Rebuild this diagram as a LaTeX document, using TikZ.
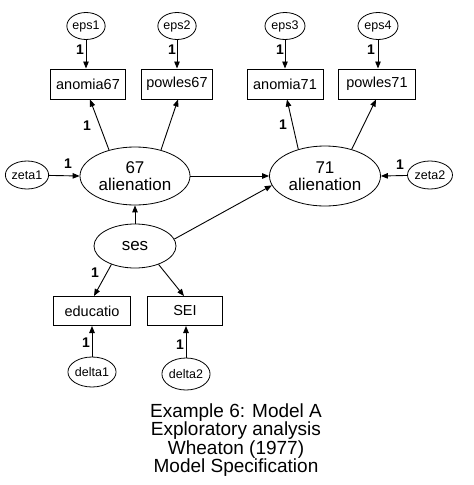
\documentclass[tikz,border=0pt]{standalone}
\usepackage{fontspec}
\setmainfont{Liberation Sans}
\usetikzlibrary{shapes.geometric,arrows.meta}
\begin{document}
\begin{tikzpicture}[x=1pt,y=-1pt,
  every node/.style={inner sep=0pt},
  errell/.style={ellipse,draw,line width=0.8pt,font=\fontsize{12.5}{13}\selectfont},
  latell/.style={ellipse,draw,line width=0.8pt,minimum width=110pt,minimum height=58pt,align=center,font=\fontsize{17}{17}\selectfont},
  obsbox/.style={rectangle,draw,line width=1pt,minimum width=75pt,minimum height=30pt,font=\fontsize{14.5}{15}\selectfont},
  arr/.style={-{Triangle[length=7pt,width=5.5pt]},line width=0.9pt},
  one/.style={font=\bfseries\fontsize{14}{14}\selectfont}]
\useasboundingbox (0,0) rectangle (474,485);
% error ellipses top
\node[errell,minimum width=36pt,minimum height=27pt] (eps1) at (86,26) {eps1};
\node[errell,minimum width=38pt,minimum height=27pt] (eps2) at (177,26) {eps2};
\node[errell,minimum width=40pt,minimum height=27pt] (eps3) at (285,26) {eps3};
\node[errell,minimum width=40pt,minimum height=27pt] (eps4) at (378,26) {eps4};
% observed boxes top
\node[obsbox] (a67) at (88,84) {anomia67};
\node[obsbox,minimum width=71pt] (p67) at (177,84) {powles67};
\node[obsbox,minimum width=76pt] (a71) at (285,84) {anomia71};
\node[obsbox,minimum width=77pt] (p71) at (377,84) {powles71};
% latent
\node[latell] (e67) at (135,176) {67\\alienation};
\node[latell,minimum width=111pt,minimum height=60pt] (e71) at (325,176) {71\\alienation};
\node[errell,minimum width=41pt,minimum height=28pt] (zeta1) at (27,175) {zeta1};
\node[errell,minimum width=45pt,minimum height=28pt] (zeta2) at (430,175) {zeta2};
\node[latell,minimum width=82pt,minimum height=44pt] (ses) at (135,246) {ses};
% bottom boxes
\node[obsbox,minimum width=77pt,minimum height=29pt] (edu) at (92,311) {educatio};
\node[obsbox,minimum width=75pt,minimum height=29pt] (sei) at (185,311) {SEI};
\node[errell,minimum width=41pt,minimum height=30pt] (delta1) at (92,372) {delta1};
\node[errell,minimum width=42pt,minimum height=32pt] (delta2) at (186,374) {delta2};
% arrows
\draw[arr] (eps1) -- (eps1 |- a67.north);
\draw[arr] (eps2) -- (eps2 |- p67.north);
\draw[arr] (eps3) -- (eps3 |- a71.north);
\draw[arr] (eps4) -- (eps4 |- p71.north);
\draw[arr] (e67.135) -- ([xshift=2pt]a67.south);
\draw[arr] (e67.45) -- ([xshift=1pt]p67.south);
\draw[arr] (e71.135) -- ([xshift=2pt]a71.south);
\draw[arr] (e71.45) -- ([xshift=-1pt]p71.south);
\draw[arr] (zeta1) -- (e67.west);
\draw[arr] (zeta2) -- (e71.east);
\draw[arr] (e67.east) -- (e71.west);
\draw[arr] (ses) -- (e67.south);
\draw[arr] (ses.10) -- (e71.190);
\draw[arr] (ses.218) -- ([xshift=2pt]edu.north);
\draw[arr] (ses.322) -- ([xshift=-1pt]sei.north);
\draw[arr] (delta1) -- (delta1 |- edu.south);
\draw[arr] (delta2) -- (delta2 |- sei.south);
% labels
\node[one] (l1) at (80,50) {1};
\node[one] (l2) at (172,50) {1};
\node[one] (l3) at (280,50) {1};
\node[one] (l4) at (371,50) {1};
\node[one] (l5) at (87,126) {1};
\node[one] (l6) at (283,125) {1};
\node[one] (l7) at (68,164) {1};
\node[one] (l8) at (400,165) {1};
\node[one] (l9) at (95,273) {1};
\node[one] (l10) at (86,343) {1};
\node[one] (l11) at (180,345) {1};
% title
\node[align=center,font=\fontsize{19}{18.5}\selectfont] (title) at (236,440) {Example 6: Model A\\Exploratory analysis\\Wheaton (1977)\\Model Specification};
\end{tikzpicture}
\end{document}
